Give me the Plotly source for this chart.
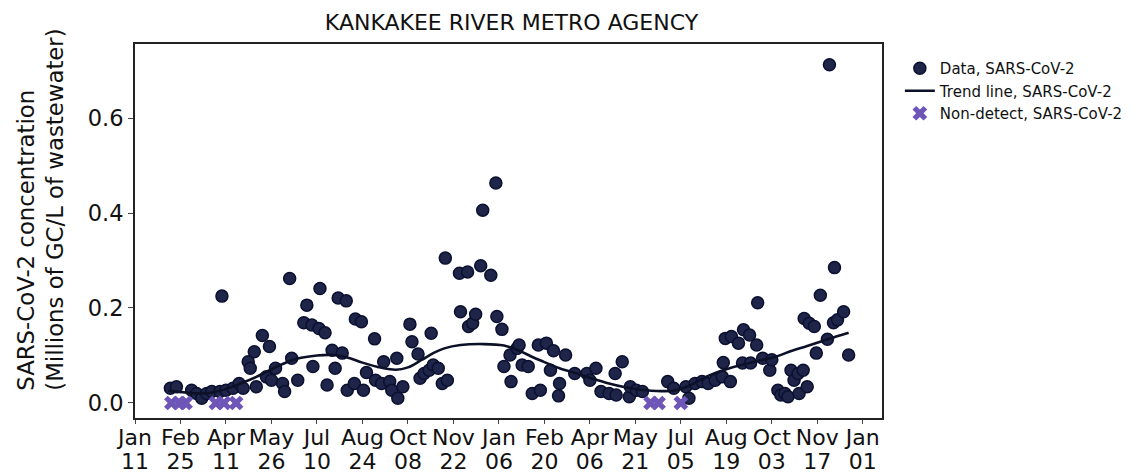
import plotly.graph_objects as go

title_text = "KANKAKEE RIVER METRO AGENCY"
y_title = "SARS-CoV-2 concentration<br>(Millions of GC/L of wastewater)"

data_dates = [
    "2021-02-15", "2021-02-21", "2021-03-08", "2021-03-13", "2021-03-18", "2021-03-23", "2021-03-28",
    "2021-04-05", "2021-04-07", "2021-04-11", "2021-04-18", "2021-04-24", "2021-04-28",
    "2021-05-03", "2021-05-05", "2021-05-09", "2021-05-11", "2021-05-17", "2021-05-21", "2021-05-24",
    "2021-05-26", "2021-05-30", "2021-06-06", "2021-06-08", "2021-06-13", "2021-06-15", "2021-06-21",
    "2021-06-27", "2021-06-30", "2021-07-05", "2021-07-06", "2021-07-12", "2021-07-13", "2021-07-18",
    "2021-07-20", "2021-07-25", "2021-07-28", "2021-07-31", "2021-08-04", "2021-08-08", "2021-08-09",
    "2021-08-16", "2021-08-17", "2021-08-23", "2021-08-25", "2021-08-28", "2021-09-05", "2021-09-06",
    "2021-09-12", "2021-09-14", "2021-09-20", "2021-09-22", "2021-09-27", "2021-09-28", "2021-10-03",
    "2021-10-10", "2021-10-12", "2021-10-18", "2021-10-20", "2021-10-24", "2021-10-29", "2021-10-31",
    "2021-11-02", "2021-11-07", "2021-11-11", "2021-11-14", "2021-11-16", "2021-11-28", "2021-11-29",
    "2021-12-06", "2021-12-07", "2021-12-11", "2021-12-14", "2021-12-19", "2021-12-21", "2021-12-29",
    "2022-01-03", "2022-01-04", "2022-01-09", "2022-01-11", "2022-01-17", "2022-01-18", "2022-01-24",
    "2022-01-26", "2022-01-29", "2022-02-04", "2022-02-08", "2022-02-14", "2022-02-16", "2022-02-22",
    "2022-02-26", "2022-03-01", "2022-03-06", "2022-03-07", "2022-03-13", "2022-03-22", "2022-04-03",
    "2022-04-06", "2022-04-12", "2022-04-17", "2022-04-25", "2022-05-01", "2022-05-02", "2022-05-08",
    "2022-05-15", "2022-05-16", "2022-05-22", "2022-05-28", "2022-06-22", "2022-06-28", "2022-07-10",
    "2022-07-13", "2022-07-19", "2022-07-26", "2022-08-01", "2022-08-08", "2022-08-15", "2022-08-16",
    "2022-08-18", "2022-08-23", "2022-08-24", "2022-08-31", "2022-09-04", "2022-09-05", "2022-09-11",
    "2022-09-12", "2022-09-18", "2022-09-19", "2022-09-24", "2022-10-01", "2022-10-03", "2022-10-09",
    "2022-10-12", "2022-10-16", "2022-10-19", "2022-10-22", "2022-10-25", "2022-10-29", "2022-10-30",
    "2022-11-03", "2022-11-04", "2022-11-07", "2022-11-09", "2022-11-14", "2022-11-16", "2022-11-20",
    "2022-11-27", "2022-11-29", "2022-12-03", "2022-12-04", "2022-12-07", "2022-12-13", "2022-12-18",
]
data_values = [
    0.031, 0.034, 0.027, 0.020, 0.010, 0.020, 0.024,
    0.024, 0.225, 0.027, 0.031, 0.041, 0.031,
    0.087, 0.073, 0.108, 0.034, 0.142, 0.055, 0.119,
    0.048, 0.073, 0.041, 0.024, 0.262, 0.094, 0.048,
    0.169, 0.206, 0.164, 0.077, 0.157, 0.241, 0.148,
    0.038, 0.111, 0.073, 0.221, 0.105, 0.215, 0.027,
    0.041, 0.177, 0.171, 0.027, 0.064, 0.135, 0.048,
    0.041, 0.087, 0.045, 0.027, 0.094, 0.010, 0.034,
    0.166, 0.129, 0.103, 0.052, 0.062, 0.069, 0.147,
    0.080, 0.073, 0.041, 0.305, 0.048, 0.273, 0.192,
    0.276, 0.161, 0.168, 0.187, 0.289, 0.406, 0.269,
    0.463, 0.182, 0.155, 0.077, 0.101, 0.045, 0.115,
    0.122, 0.080, 0.077, 0.020, 0.122, 0.027, 0.126,
    0.069, 0.110, 0.015, 0.041, 0.101, 0.062, 0.062,
    0.048, 0.073, 0.024, 0.020, 0.062, 0.017, 0.087,
    0.013, 0.034, 0.027, 0.024, 0.045, 0.031, 0.034,
    0.010, 0.041, 0.045, 0.041, 0.048, 0.055, 0.085,
    0.136, 0.045, 0.140, 0.126, 0.084, 0.154, 0.143,
    0.084, 0.122, 0.211, 0.094, 0.069, 0.091, 0.027,
    0.017, 0.020, 0.013, 0.069, 0.048, 0.062, 0.020,
    0.069, 0.178, 0.034, 0.168, 0.161, 0.105, 0.227,
    0.134, 0.712, 0.169, 0.285, 0.175, 0.192, 0.101,
]

trend_dates = [
    "2021-02-13", "2021-03-02", "2021-03-18", "2021-04-05", "2021-04-24", "2021-05-11", "2021-05-24",
    "2021-06-06", "2021-06-20", "2021-07-10", "2021-07-26", "2021-08-09", "2021-08-24", "2021-09-12",
    "2021-09-26", "2021-10-08", "2021-10-21", "2021-11-03", "2021-11-13", "2021-11-29", "2021-12-22",
    "2022-01-11", "2022-01-24", "2022-02-07", "2022-02-19", "2022-03-07", "2022-03-24", "2022-04-09",
    "2022-04-25", "2022-05-11", "2022-05-26", "2022-06-15", "2022-06-30", "2022-07-15", "2022-08-01",
    "2022-08-19", "2022-09-03", "2022-09-20", "2022-10-06", "2022-10-23", "2022-11-07", "2022-11-27",
    "2022-12-18",
]
trend_values = [
    0.026, 0.022, 0.020, 0.026, 0.040, 0.055, 0.069,
    0.082, 0.093, 0.100, 0.101, 0.096, 0.085, 0.074,
    0.070, 0.075, 0.090, 0.106, 0.115, 0.122, 0.124,
    0.121, 0.112, 0.098, 0.087, 0.073, 0.062, 0.051,
    0.041, 0.033, 0.028, 0.025, 0.027, 0.038, 0.057,
    0.071, 0.080, 0.089, 0.097, 0.110, 0.120, 0.134,
    0.148,
]

nondetect_dates = [
    "2021-02-16", "2021-02-24", "2021-03-02", "2021-04-01", "2021-04-09", "2021-04-21",
    "2022-06-05", "2022-06-13", "2022-07-05",
]
nondetect_values = [0.0, 0.0, 0.0, 0.0, 0.0, 0.0, 0.0, 0.0, 0.0]

tick_dates = [
    "2021-01-11", "2021-02-25", "2021-04-11", "2021-05-26", "2021-07-10", "2021-08-24",
    "2021-10-08", "2021-11-22", "2022-01-06", "2022-02-20", "2022-04-06", "2022-05-21",
    "2022-07-05", "2022-08-19", "2022-10-03", "2022-11-17", "2023-01-01",
]
tick_months = ["Jan", "Feb", "Apr", "May", "Jul", "Aug", "Oct", "Nov", "Jan",
               "Feb", "Apr", "May", "Jul", "Aug", "Oct", "Nov", "Jan"]
tick_days = ["11", "25", "11", "26", "10", "24", "08", "22", "06",
             "20", "06", "21", "05", "19", "03", "17", "01"]
y_ticks = [0.0, 0.2, 0.4, 0.6]

FONT = "DejaVu Sans"
NAVY = "#1e2549"
X_RANGE = ["2021-01-11", "2023-01-20"]

# page offset (browser body margin) compensation
OFF = 8
W, H = 1140 - OFF, 475 - OFF
PL, PR, PT, PB = 135 - OFF, 888 - OFF, 44 - OFF, 418 - OFF
PW, PH = PR - PL, PB - PT

fig = go.Figure()
fig.add_trace(go.Scatter(
    x=data_dates, y=data_values, mode="markers", name="Data, SARS-CoV-2",
    marker=dict(size=12, color=NAVY, line=dict(color="#0b1030", width=1.5)),
))
fig.add_trace(go.Scatter(
    x=trend_dates, y=trend_values, mode="lines", name="Trend line, SARS-CoV-2",
    xaxis="x2",
    line=dict(color="#0d1128", width=2.6, shape="spline", smoothing=1.0),
))
fig.add_trace(go.Scatter(
    x=nondetect_dates, y=nondetect_values, mode="markers", name="Non-detect, SARS-CoV-2",
    xaxis="x2",
    marker=dict(symbol="x", size=13, color="#6e55b8", line=dict(width=0)),
))

fig.update_layout(
    width=W, height=H,
    margin=dict(l=PL, r=W - PR, t=PT, b=H - PB),
    paper_bgcolor="white", plot_bgcolor="white",
    font=dict(family=FONT, color="#111111"),
    title=dict(text=title_text, x=(PL + PR) / 2 / W, xanchor="center",
               y=1 - (22 - OFF) / H, yanchor="middle",
               font=dict(family=FONT, size=22, color="#111111")),
    showlegend=True,
    legend=dict(x=(906 - 135) / PW, y=1 - (52 - 44) / PH, xanchor="left", yanchor="top",
                font=dict(family=FONT, size=15, color="#111111"),
                bgcolor="rgba(255,255,255,0)", tracegroupgap=0, itemwidth=30),
    annotations=[dict(
        text=y_title, textangle=-90, align="left",
        xref="paper", yref="paper", x=(40 - 135) / PW, y=(418 - 210) / PH,
        xanchor="center", yanchor="middle", showarrow=False,
        font=dict(family=FONT, size=22.8, color="#111111"),
    )],
    xaxis=dict(
        type="date", range=X_RANGE, automargin=False,
        tickmode="array", tickvals=tick_dates, ticktext=tick_months,
        tickfont=dict(family=FONT, size=22, color="#111111"),
        showgrid=False, zeroline=False,
        showline=True, linecolor="#222222", linewidth=2, mirror=True,
        ticks="outside", ticklen=4, tickcolor="#444444",
        ticklabelstandoff=-5,
    ),
    xaxis2=dict(
        overlaying="x", anchor="y", side="bottom", type="date", range=X_RANGE,
        automargin=False, tickmode="array", tickvals=tick_dates, ticktext=tick_days,
        tickfont=dict(family=FONT, size=22, color="#111111"),
        showgrid=False, zeroline=False, showline=False, ticks="",
        ticklabelstandoff=28,
    ),
    yaxis=dict(
        range=[-0.0316, 0.7558], automargin=False,
        tickmode="array", tickvals=y_ticks, tickformat=".1f",
        tickfont=dict(family=FONT, size=22.5, color="#111111"),
        showgrid=False, zeroline=False,
        showline=True, linecolor="#222222", linewidth=2, mirror=True,
        ticks="outside", ticklen=5, tickcolor="#444444",
    ),
)

fig.write_html("out.html")
